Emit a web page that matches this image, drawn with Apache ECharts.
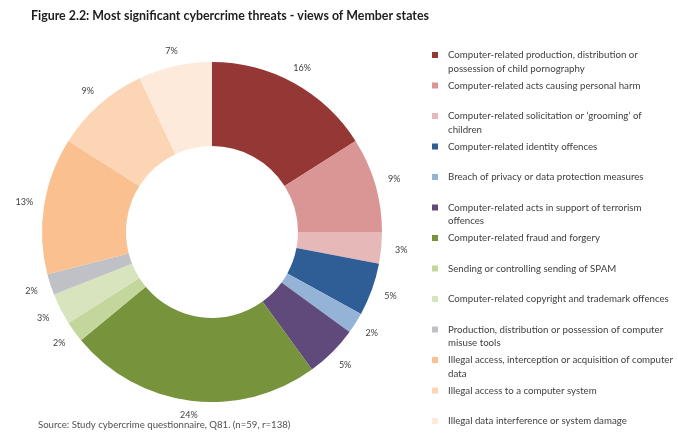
<!DOCTYPE html>
<html>
<head>
<meta charset="utf-8">
<script src="https://cdn.jsdelivr.net/npm/echarts@6/dist/echarts.min.js"></script>
<style>
  html, body { margin: 0; padding: 0; background: #ffffff; }
  #chart { width: 678px; height: 445px; }
</style>
</head>
<body>
<div id="chart"></div>
<script>
// ---- data ----
const categories = [
  "Computer-related production, distribution or possession of child pornography",
  "Computer-related acts causing personal harm",
  "Computer-related solicitation or ‘grooming’ of children",
  "Computer-related identity offences",
  "Breach of privacy or data protection measures",
  "Computer-related acts in support of terrorism offences",
  "Computer-related fraud and forgery",
  "Sending or controlling sending of SPAM",
  "Computer-related copyright and trademark offences",
  "Production, distribution or possession of computer misuse tools",
  "Illegal access, interception or acquisition of computer data",
  "Illegal access to a computer system",
  "Illegal data interference or system damage"
];
const legendLines = [
  ["Computer-related production, distribution or", "possession of child pornography"],
  ["Computer-related acts causing personal harm"],
  ["Computer-related solicitation or ‘grooming’ of", "children"],
  ["Computer-related identity offences"],
  ["Breach of privacy or data protection measures"],
  ["Computer-related acts in support of terrorism", "offences"],
  ["Computer-related fraud and forgery"],
  ["Sending or controlling sending of SPAM"],
  ["Computer-related copyright and trademark offences"],
  ["Production, distribution or possession of computer", "misuse tools"],
  ["Illegal access, interception or acquisition of computer", "data"],
  ["Illegal access to a computer system"],
  ["Illegal data interference or system damage"]
];
const values = [16, 9, 3, 5, 2, 5, 24, 2, 3, 2, 13, 9, 7];
const colors = [
  "#953735", "#D99694", "#E6B9B8", "#2F5D96", "#95B3D7", "#604A7B",
  "#77933C", "#C3D69B", "#D7E4BD", "#BFC1C6", "#FAC090", "#FCD5B5", "#FDEADA"
];
const titleText = "Figure 2.2: Most significant cybercrime threats - views of Member states";
const sourceText = "Source: Study cybercrime questionnaire, Q81. (n=59, r=138)";

// ---- chart ----
const FONT = "Lato, 'Open Sans', sans-serif";
const chart = echarts.init(document.getElementById('chart'), null, { renderer: 'canvas' });

const LH = 13.5;
const firstIconY = 55;
const stepY = 30.5;
const legends = categories.map((name, i) => {
  const lines = legendLines[i];
  const txt = lines.length > 1 ? (' \n' + lines.join('\n')) : lines[0];
  const nLines = lines.length > 1 ? 3 : 1;
  const iconY = firstIconY + stepY * i;
  return {
    orient: 'vertical',
    left: 432,
    top: iconY - (nLines * LH) / 2,
    padding: 0,
    itemWidth: 6,
    itemHeight: 6,
    icon: 'rect',
    selectedMode: false,
    data: [name],
    formatter: () => txt,
    textStyle: {
      fontFamily: FONT,
      fontSize: 9.7,
      lineHeight: LH,
      color: '#404040',
      padding: [0, 0, 0, 5]
    }
  };
});

const LINE_LEN = 10;
chart.setOption({
  animation: false,
  color: colors,
  title: [
    {
      text: titleText,
      left: 31,
      top: 10,
      padding: 0,
      textStyle: { fontFamily: FONT, fontSize: 12.4, fontWeight: 'bold', color: '#1e1e1e' }
    },
    {
      text: sourceText,
      left: 38,
      top: 420,
      padding: 0,
      textStyle: { fontFamily: FONT, fontSize: 9.6, fontWeight: 'normal', color: '#505050' }
    }
  ],
  legend: legends,
  series: [{
    type: 'pie',
    center: [212, 232],
    radius: [86, 170],
    startAngle: 90,
    clockwise: true,
    avoidLabelOverlap: false,
    data: categories.map((n, i) => ({ name: n, value: values[i] })),
    label: {
      show: true,
      position: 'outside',
      formatter: '{c}%',
      fontFamily: FONT,
      fontSize: 9,
      color: '#404040'
    },
    labelLine: { show: true, length: LINE_LEN, length2: 0, lineStyle: { width: 0, opacity: 0 } },
    labelLayout: function (p) {
      const pts = p.labelLinePoints;
      if (!pts) return {};
      const dx = (pts[1][0] - pts[0][0]) / LINE_LEN;
      const dy = (pts[1][1] - pts[0][1]) / LINE_LEN;
      const off = 14 + 6 * Math.abs(dx);
      return {
        x: pts[0][0] + dx * off,
        y: pts[0][1] + dy * off,
        align: 'center',
        verticalAlign: 'middle',
        hideOverlap: false
      };
    },
    itemStyle: { borderWidth: 0 },
    emphasis: { disabled: true }
  }]
});
</script>
</body>
</html>
